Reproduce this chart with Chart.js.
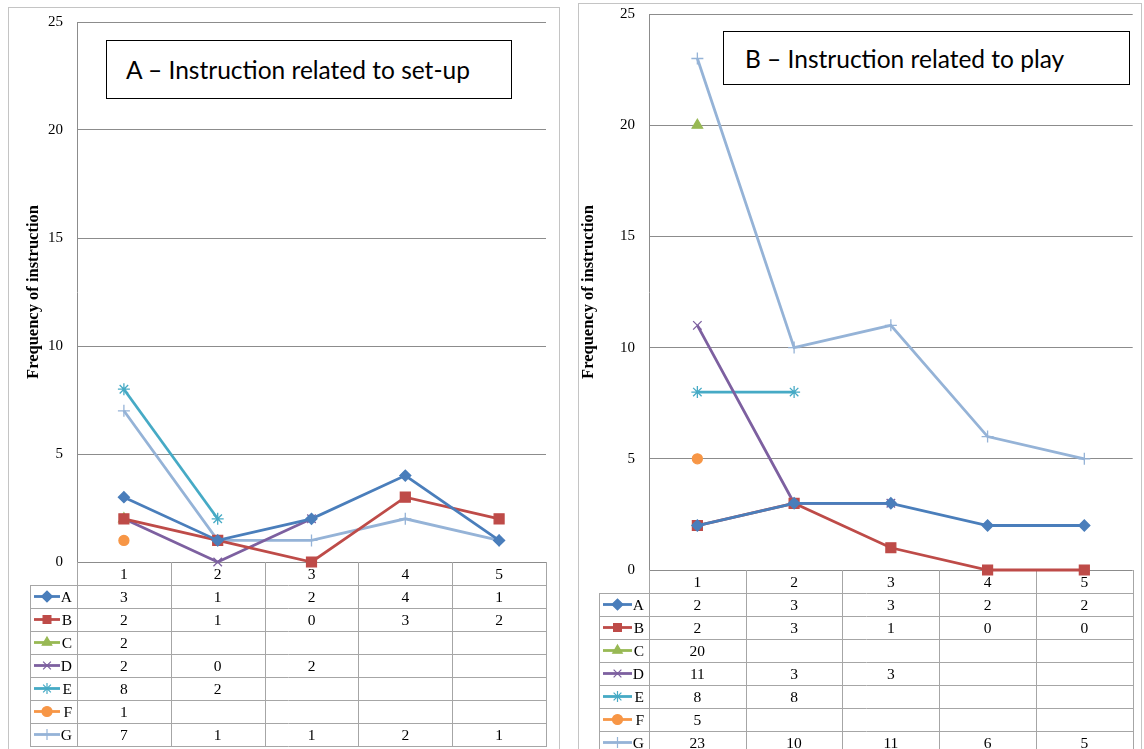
<!DOCTYPE html>
<html>
<head>
<meta charset="utf-8">
<script src="https://cdn.jsdelivr.net/npm/chart.js@4.4.1/dist/chart.umd.min.js"></script>
<style>
  body { margin: 0; background: #fff; width: 1144px; height: 749px; overflow: hidden; position: relative; }
  .panel { position: absolute; border: 1px solid #c4c4c4; box-sizing: border-box; }
  .panel canvas { position: absolute; left: 0; top: 0; }
  .titlebox { position: absolute; border: 1.5px solid #000; box-sizing: border-box; background: #fff;
              font-family: Lato, "Open Sans", sans-serif; font-size: 24.5px; color: #000;
              display: flex; align-items: center; }
</style>
</head>
<body>
<div class="panel" id="panelA" style="left:8px; top:7px; width:552px; height:760px;">
  <canvas id="chartA" width="550" height="758"></canvas>
</div>
<div class="panel" id="panelB" style="left:578px; top:3px; width:564px; height:770px;">
  <canvas id="chartB" width="562" height="768"></canvas>
</div>
<div class="titlebox" style="left:106px; top:40px; width:406px; height:59px; padding-left:19px;">A – Instruction related to set-up</div>
<div class="titlebox" style="left:723px; top:31px; width:407px; height:54px; padding-left:21px;">B – Instruction related to play</div>

<script>
// categories (sessions) and series names
const sessions = ['1', '2', '3', '4', '5'];
const seriesNames = ['A', 'B', 'C', 'D', 'E', 'F', 'G'];

// A - instruction related to set-up
const setupA = [3, 1, 2, 4, 1];
const setupB = [2, 1, 0, 3, 2];
const setupC = [2, null, null, null, null];
const setupD = [2, 0, 2, null, null];
const setupE = [8, 2, null, null, null];
const setupF = [1, null, null, null, null];
const setupG = [7, 1, 1, 2, 1];

// B - instruction related to play
const playA = [2, 3, 3, 2, 2];
const playB = [2, 3, 1, 0, 0];
const playC = [20, null, null, null, null];
const playD = [11, 3, 3, null, null];
const playE = [8, 8, null, null, null];
const playF = [5, null, null, null, null];
const playG = [23, 10, 11, 6, 5];

const yTicks = [0, 5, 10, 15, 20, 25];

// series styling
const seriesColors = ['#4a7ebb', '#be4b48', '#98b954', '#7d60a0', '#46aac5', '#f79646', '#95b3d7'];
const seriesPoints = ['rectRot', 'rect', 'triangle', 'crossRot', 'star', 'circle', 'cross'];
const seriesRadius = [5.5, 7, 6, 6, 6, 5, 6];

const serif = 'Liberation Serif, "Times New Roman", serif';

// draws the data table under the plot (header row of categories + one row per series)
const tablePlugin = {
  id: 'dataTable',
  beforeDatasetsDraw(chart, args, opts) {
    const ctx = chart.ctx;
    const area = chart.chartArea;
    const xs = chart.scales.x;
    const n = sessions.length;
    const colW = (area.right - area.left) / n;
    const rowH = opts.rowHeight;
    const top = Math.round(area.bottom);
    const legLeft = Math.round(area.left - opts.legendWidth);
    const nRows = chart.data.datasets.length;
    const bottom = top + rowH * (nRows + 1);
    const L = Math.round(area.left), R = Math.round(area.right);

    ctx.save();
    ctx.strokeStyle = '#a6a6a6';
    ctx.lineWidth = 1;
    ctx.beginPath();
    // vertical column lines
    for (let i = 0; i <= n; i++) {
      const x = Math.round(area.left + i * colW) + 0.5;
      ctx.moveTo(x, top);
      ctx.lineTo(x, bottom);
    }
    // legend column left edge
    ctx.moveTo(legLeft + 0.5, top + rowH);
    ctx.lineTo(legLeft + 0.5, bottom);
    // row lines
    for (let r = 1; r <= nRows + 1; r++) {
      const y = top + r * rowH + 0.5;
      ctx.moveTo(legLeft, y);
      ctx.lineTo(R + 1, y);
    }
    ctx.stroke();

    ctx.fillStyle = '#000';
    ctx.font = '15.5px ' + serif;
    ctx.textAlign = 'center';
    ctx.textBaseline = 'middle';
    // header
    for (let i = 0; i < n; i++) {
      ctx.fillText(sessions[i], xs.getPixelForValue(i), top + rowH / 2 + 1);
    }
    // rows
    chart.data.datasets.forEach((ds, r) => {
      const cy = top + (r + 1) * rowH + rowH / 2 + 1;
      ds.data.forEach((v, i) => {
        if (v !== null && v !== undefined) {
          ctx.fillStyle = '#000';
          ctx.textAlign = 'center';
          ctx.fillText(String(v), xs.getPixelForValue(i), cy);
        }
      });
      // legend key
      const x0 = legLeft + 4, x1 = L - 17;
      ctx.strokeStyle = ds.borderColor;
      ctx.lineWidth = 2.8;
      ctx.beginPath();
      ctx.moveTo(x0, cy - 1);
      ctx.lineTo(x1, cy - 1);
      ctx.stroke();
      ctx.fillStyle = ds.borderColor;
      ctx.lineWidth = 1.2;
      Chart.helpers.drawPoint(ctx, {
        pointStyle: ds.pointStyle, rotation: 0,
        radius: Math.min(ds.pointRadius, 5.5), borderWidth: 1.2
      }, (x0 + x1) / 2, cy - 1);
      ctx.fillStyle = '#000';
      ctx.textAlign = 'right';
      ctx.fillText(ds.label, L - 5, cy);
    });
    ctx.restore();
  }
};

function makeDatasets(series) {
  return series.map((values, i) => ({
    label: seriesNames[i],
    data: values,
    borderColor: seriesColors[i],
    backgroundColor: seriesColors[i],
    borderWidth: 2.8,
    pointStyle: seriesPoints[i],
    pointRadius: seriesRadius[i],
    pointBorderWidth: 1.3,
    pointHoverRadius: seriesRadius[i],
    tension: 0,
    clip: false
  }));
}

function makeChart(canvasId, series, layout) {
  const cfg = {
    type: 'line',
    data: { labels: sessions, datasets: makeDatasets(series) },
    options: {
      responsive: false,
      animation: false,
      layout: { padding: layout.padding },
      plugins: {
        legend: { display: false },
        tooltip: { enabled: false },
        dataTable: { rowHeight: layout.rowHeight, legendWidth: layout.legendWidth }
      },
      scales: {
        x: { type: 'category', display: false, offset: true },
        y: {
          min: 0, max: 25,
          afterBuildTicks: (scale) => { scale.ticks = yTicks.map(v => ({ value: v })); },
          afterFit: (scale) => {
            scale.width = layout.yWidth;
            // let the layout padding alone decide where the plot starts
            scale.paddingTop = 0;
            scale.paddingBottom = 0;
          },
          ticks: { color: '#000', padding: 14, font: { family: serif, size: 15 } },
          grid: { color: '#8c8c8c', lineWidth: 1, drawTicks: false },
          border: { color: '#8c8c8c' },
          title: {
            display: true, text: 'Frequency of instruction', color: '#000',
            padding: layout.titlePad,
            font: { family: serif, size: 16.5, weight: 'bold' }
          }
        }
      }
    },
    plugins: [tablePlugin]
  };
  return new Chart(document.getElementById(canvasId), cfg);
}

makeChart('chartA',
  [setupA, setupB, setupC, setupD, setupE, setupF, setupG],
  { padding: { left: 12, top: 14, right: 13, bottom: 758 - 554 }, yWidth: 56,
    rowHeight: 23, legendWidth: 47, titlePad: { top: 3, bottom: 4 } });

makeChart('chartB',
  [playA, playB, playC, playD, playE, playF, playG],
  { padding: { left: 0, top: 10, right: 3, bottom: 768 - 566 }, yWidth: 70,
    rowHeight: 23, legendWidth: 50, titlePad: { top: 0, bottom: 4 } });
</script>
</body>
</html>
